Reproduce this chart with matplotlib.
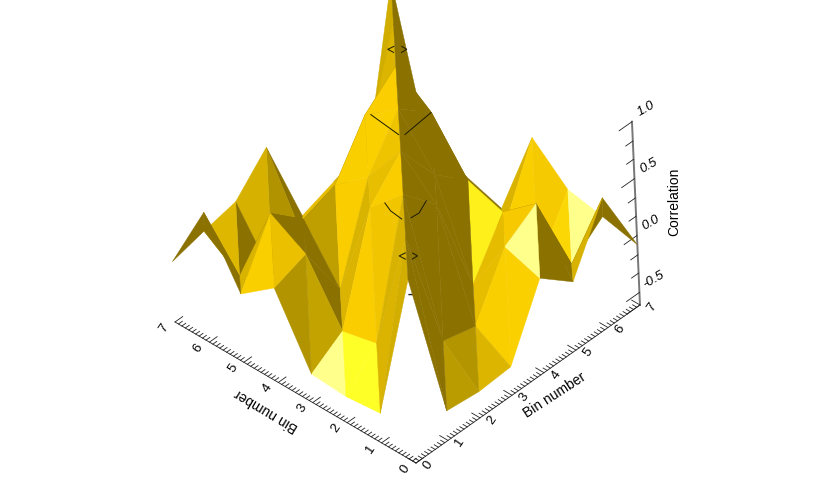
import matplotlib
matplotlib.use("Agg")
import matplotlib.pyplot as plt
import numpy as np
from mpl_toolkits.mplot3d.art3d import Poly3DCollection
from mpl_toolkits.mplot3d import proj3d

FIG_W, FIG_H = 830, 496
Z_MIN, Z_MAX = -0.61, 1.0
BIN_MAX = 7

# upper triangle of the correlation matrix
ROW_0 = [1.00, -0.35, -0.38, -0.36, 0.22, -0.01, 0.53, -0.08]
ROW_1 = [1.00, -0.11, -0.18, 0.32, 0.50, -0.23, -0.01]
ROW_2 = [1.00, 0.71, -0.19, 0.25, -0.42, 0.05]
ROW_3 = [1.00, 0.60, 0.35, -0.30, 0.33]
ROW_4 = [1.00, 0.77, -0.20, -0.47]
ROW_5 = [1.00, 0.10, -0.37]
ROW_6 = [1.00, -0.45]
ROW_7 = [1.00]
ROWS = [ROW_0, ROW_1, ROW_2, ROW_3, ROW_4, ROW_5, ROW_6, ROW_7]

BIN_TICKS = [0, 1, 2, 3, 4, 5, 6, 7]
CORR_TICKS = [-0.5, 0.0, 0.5, 1.0]
CORR_MINOR = [-0.5, -0.33, -0.17, 0.0, 0.17, 0.33, 0.5, 0.67, 0.83, 1.0]

# contour pieces (x bin, y bin) at CONTOUR_Z
CONTOUR_Z = 0.9
CONTOURS = [
    [(3.74, 4.57), (3.65, 3.68)],
    [(3.74, 3.58), (4.64, 3.66)],
    [(5.72, 5.74), (5.56, 5.77), (5.57, 5.61)],
    [(5.83, 5.61), (5.83, 5.47), (5.68, 5.48)],
    [(1.80, 2.36), (1.69, 2.09), (1.65, 1.73)],
    [(1.81, 1.61), (2.04, 1.59), (2.44, 1.75)],
    [(0.88, 0.91), (0.72, 0.94), (0.73, 0.77)],
    [(0.98, 0.79), (0.98, 0.65), (0.83, 0.66)],
]
BASE_LINE = [(3.98, 3.90), (4.11, 3.76)]

BOX = (325.8, 332.2, 239.7)
VIEW = np.array([-0.5397, -0.5411, 0.6437])
LIGHT = np.array([-0.65, 0.05, 0.76])
SPECULAR = np.array([-0.55, -0.20, 0.81])
SHADE_LEVELS = [0.17, 0.22, 0.49, 0.64, 0.79, 0.86, 0.925, 0.955]
SHADE_R = [139, 160, 185, 215, 235, 250, 250, 255]
SHADE_G = [113, 130, 155, 178, 192, 205, 208, 255]
SHADE_B = [0, 0, 0, 0, 0, 0, 0, 40]
PALE = np.array([255, 255, 140])

AXIS_COLOR = "#222222"
FONT = "Liberation Sans"


def build_matrix():
    z = np.zeros((8, 8))
    for i, row in enumerate(ROWS):
        for k, value in enumerate(row):
            z[i, i + k] = value
            z[i + k, i] = value
    return z


def shade(tri):
    unit = np.array(BOX) / np.array([BIN_MAX, BIN_MAX, Z_MAX - Z_MIN])
    a, b, c = np.array(tri) * unit
    normal = np.cross(b - a, c - a)
    normal = normal / np.linalg.norm(normal)
    if normal[2] < 0:
        normal = -normal
    level = normal @ LIGHT
    spec = np.clip((normal @ SPECULAR - 0.96) / 0.02, 0, 1)
    if normal @ VIEW < 0:
        level, spec = -1.0, 0.0  # underside of the surface
    base = np.array([np.interp(level, SHADE_LEVELS, SHADE_R),
                     np.interp(level, SHADE_LEVELS, SHADE_G),
                     np.interp(level, SHADE_LEVELS, SHADE_B)])
    return tuple((base + (PALE - base) * spec) / 255)


def draw_surface(ax, z):
    tris, colors = [], []
    for i in range(BIN_MAX):
        for j in range(BIN_MAX):
            p00 = (i, j, z[i, j])
            p10 = (i + 1, j, z[i + 1, j])
            p01 = (i, j + 1, z[i, j + 1])
            p11 = (i + 1, j + 1, z[i + 1, j + 1])
            for tri in ((p00, p01, p11), (p00, p10, p11)):
                tris.append(tri)
                colors.append(shade(tri))
    poly = Poly3DCollection(tris, facecolors=colors, edgecolors=colors, linewidths=0.3, zsort="average")
    poly.set_zorder(3)
    ax.add_collection3d(poly, autolim=False)


def draw_axes(ax):
    line = dict(color=AXIS_COLOR, linewidth=0.6, zorder=1)
    ax.plot([0, BIN_MAX], [0, 0], [Z_MIN, Z_MIN], **line)
    ax.plot([0, 0], [0, BIN_MAX], [Z_MIN, Z_MIN], **line)
    ax.plot([BIN_MAX, BIN_MAX], [0, 0], [Z_MIN, Z_MAX], color="#777777", linewidth=1.4, zorder=1)

    for t in np.arange(0, BIN_MAX + 0.01, 0.1):
        size = 0.24 if abs(t - round(t)) < 1e-6 else 0.12
        ax.plot([t, t], [0, size], [Z_MIN, Z_MIN], **line)
        ax.plot([0, size], [t, t], [Z_MIN, Z_MIN], **line)
    for v in CORR_MINOR:
        size = 0.4 if v in CORR_TICKS else 0.22
        ax.plot([BIN_MAX - size, BIN_MAX], [0, 0], [v, v], **line)
    ax.plot([BIN_MAX - 0.4, BIN_MAX], [0, 0], [Z_MIN, Z_MIN], **line)


def draw_labels(fig, ax):
    def label(point, text, rotation, size, **kw):
        px, py = to_pixels(ax, point)
        fig.text(px / FIG_W, 1 - py / FIG_H, text, rotation=rotation, rotation_mode="anchor", fontsize=size,
                 ha="center", va="center", family=FONT, **kw)

    for t in BIN_TICKS:
        label((t + 0.12, -0.24, Z_MIN), str(t), 55, 9.5)
        label((-0.30, t + 0.04, Z_MIN), str(t), 55, 9.5)
    label((3.6, -0.67, Z_MIN), "Bin number", 33, 10)
    label((-0.82, 3.57, Z_MIN), "Bin number", 149, 10)
    for v in CORR_TICKS:
        label((BIN_MAX + 0.52, 0.07, v), f"{v:.1f}", 30, 9.5, style="italic")
    label((BIN_MAX + 0.62, -0.54, 0.27), "Correlation", 90, 10)


def draw_contours(ax):
    for piece in CONTOURS:
        xs, ys = zip(*piece)
        ax.plot(xs, ys, [CONTOUR_Z] * len(piece), color="#1a1a00", linewidth=0.7, zorder=5)
    xs, ys = zip(*BASE_LINE)
    ax.plot(xs, ys, [Z_MIN, Z_MIN], color="#222222", linewidth=1.0, zorder=1)


def to_pixels(ax, point):
    xs, ys, _ = proj3d.proj_transform(*point, ax.get_proj())
    px, py = ax.transData.transform((xs, ys))
    return np.array([px, FIG_H - py])


def place_axes(ax, size, left, top):
    ax.set_position([left / FIG_W, 1 - (top + size) / FIG_H, size / FIG_W, size / FIG_H])
    ax.apply_aspect()


def fit_axes(fig, ax):
    # the box corners should land on the reference's axis ends
    origin_target = np.array([416.0, 463.0])
    corner_target = np.array([640.0, 305.0])
    size, left, top = 800.0, 0.0, 0.0
    place_axes(ax, size, left, top)
    fig.canvas.draw()
    span = np.linalg.norm(to_pixels(ax, (BIN_MAX, 0, Z_MIN)) - to_pixels(ax, (0, 0, Z_MIN)))
    size *= np.linalg.norm(corner_target - origin_target) / span
    place_axes(ax, size, left, top)
    fig.canvas.draw()
    shift = origin_target - to_pixels(ax, (0, 0, Z_MIN))
    place_axes(ax, size, left + shift[0], top + shift[1])
    fig.canvas.draw()


def main():
    z = build_matrix()
    fig = plt.figure(figsize=(FIG_W / 100, FIG_H / 100), dpi=100)
    ax = fig.add_axes([0, 0, 1, 1], projection="3d", computed_zorder=False)
    ax.set_proj_type("ortho")
    ax.set_box_aspect(BOX)
    ax.set_xlim(0, BIN_MAX)
    ax.set_ylim(0, BIN_MAX)
    ax.set_zlim(Z_MIN, Z_MAX)
    ax.view_init(elev=40.07, azim=225.07, roll=2.5)
    ax.set_axis_off()

    draw_axes(ax)
    draw_surface(ax, z)
    draw_contours(ax)

    fit_axes(fig, ax)
    draw_labels(fig, ax)
    fig.savefig("out.png", dpi=100)


main()
